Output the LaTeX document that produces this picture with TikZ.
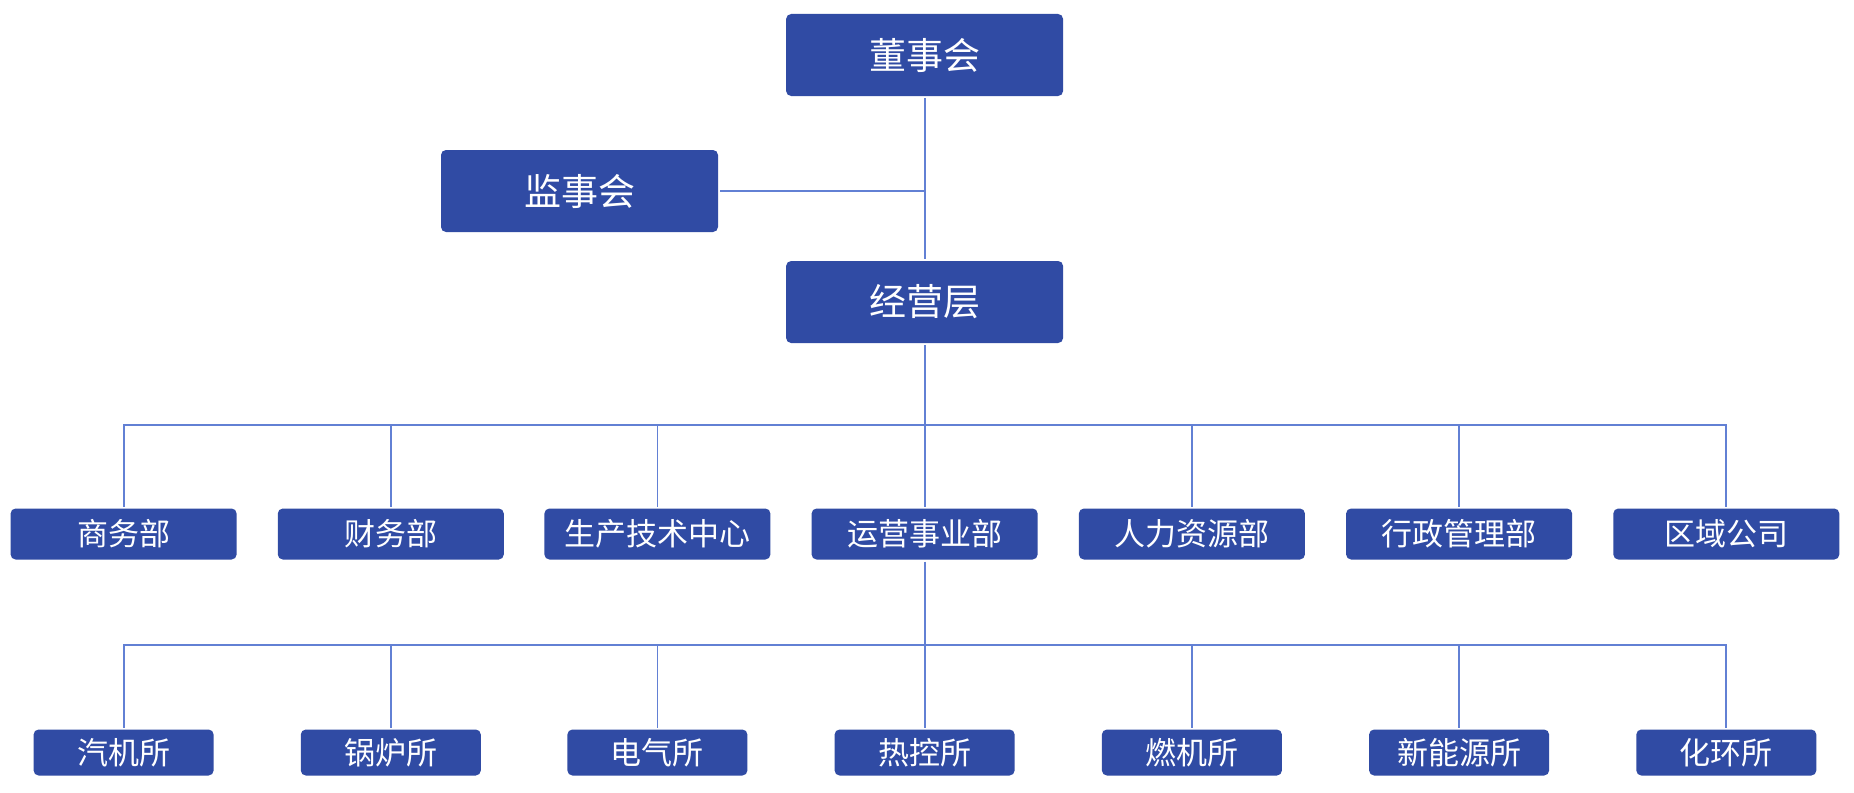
\documentclass[tikz,border=0pt]{standalone}
\usepackage{fontspec}
\newfontfamily\cjk{Noto Sans CJK SC}
\definecolor{boxblue}{RGB}{48,75,164}
\definecolor{lineblue}{RGB}{98,128,212}
\tikzset{
  orgbox/.style={rectangle, fill=boxblue, rounded corners=5pt, inner sep=0pt,
    outer sep=2pt, text=white, font=\cjk},
  bigbox/.style={orgbox, minimum width=277pt, minimum height=82pt,
    font=\cjk\fontsize{37}{40}\selectfont},
  midbox/.style={orgbox, minimum width=226pt, minimum height=51pt,
    font=\cjk\fontsize{31}{34}\selectfont},
  lowbox/.style={orgbox, minimum width=180pt, minimum height=46pt,
    font=\cjk\fontsize{31}{34}\selectfont},
  conn/.style={draw=lineblue, line width=1.8pt}
}
\begin{document}
\begin{tikzpicture}[x=1pt,y=-1pt]
\useasboundingbox (0,0) rectangle (1854,792);
\fill[white] (0,0) rectangle (1854,792);

\node[bigbox] (dsh) at (924.6,55) {董事会};
\node[bigbox] (jsh) at (579.5,191) {监事会};
\node[bigbox] (jyc) at (924.6,302) {经营层};

\coordinate (j1) at (924.6,191);
\coordinate (bus1) at (924.6,425);
\coordinate (bus2) at (924.6,645);

\draw[conn] (dsh.south) -- (jyc.north);
\draw[conn] (jsh.east) -- (j1);

\foreach \name/\x/\t in {m1/123.6/商务部, m2/390.8/财务部, m3/657.4/生产技术中心,
  m4/924.6/运营事业部, m5/1191.9/人力资源部, m6/1459.1/行政管理部, m7/1726.3/区域公司}{
  \node[midbox] (\name) at (\x,534) {\t};
}
\foreach \name/\x/\t in {b1/123.6/汽机所, b2/390.8/锅炉所, b3/657.4/电气所,
  b4/924.6/热控所, b5/1191.9/燃机所, b6/1459.1/新能源所, b7/1726.3/化环所}{
  \node[lowbox] (\name) at (\x,752.5) {\t};
}

\draw[conn] (jyc.south) -- (bus1);
\foreach \name in {m1,m2,m3,m4,m5,m6,m7}{
  \draw[conn] (bus1) -| (\name.north);
}
\draw[conn] (m4.south) -- (bus2);
\foreach \name in {b1,b2,b3,b4,b5,b6,b7}{
  \draw[conn] (bus2) -| (\name.north);
}
\end{tikzpicture}
\end{document}
